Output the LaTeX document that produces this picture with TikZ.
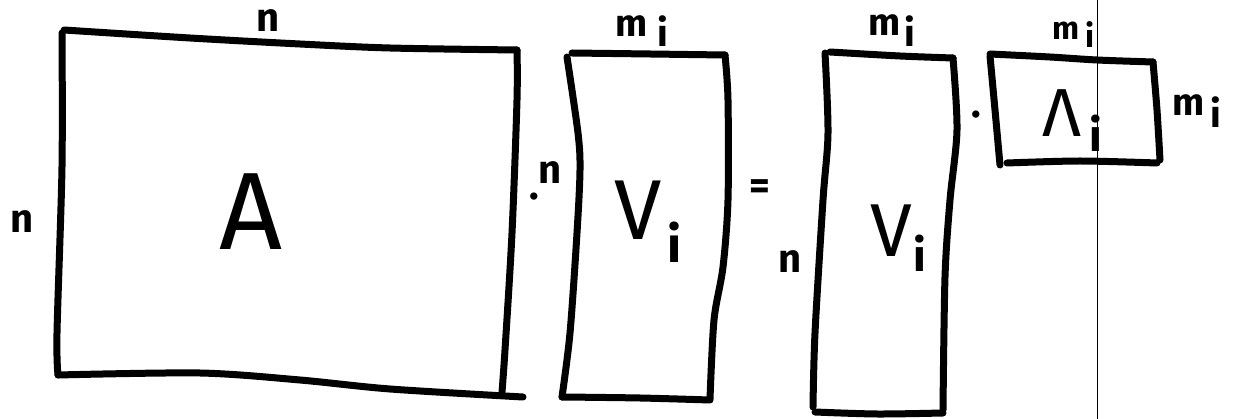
\documentclass[tikz,border=0pt]{standalone}
\usepackage{fontspec}
\setmainfont{Fira Sans}
\begin{document}
\begin{tikzpicture}[x=1pt,y=-1pt,
  pen/.style={line width=7pt,line cap=round,line join=round,black},
  small/.style={font=\fontsize{40}{42}\selectfont\bfseries,inner sep=0pt},
  msub/.style={font=\fontsize{38}{40}\selectfont\bfseries,inner sep=0pt,anchor=base west},
  big/.style={inner sep=0pt,anchor=base west}]
\useasboundingbox (0,0) rectangle (1235,419);
% thin vertical line
\draw[line width=1pt] (1097,0) -- (1097,419);
% Box A
\draw[pen] plot[smooth] coordinates {(64,30) (190,38) (300,44) (390,48) (517,50)};
\draw[pen] plot[smooth] coordinates {(517,50) (517,100) (512,233) (505,350) (502,392)};
\draw[pen] plot[smooth] coordinates {(58,375) (200,373) (300,380) (390,389) (523,397)};
\draw[pen] plot[smooth] coordinates {(62,33) (62,167) (57,333) (58,375)};
% Vi box 1
\draw[pen] plot[smooth] coordinates {(572,53) (650,54) (725,55)};
\draw[pen] plot[smooth] coordinates {(567,57) (578,133) (580,170) (577,233) (570,333) (562,397)};
\draw[pen] plot[smooth] coordinates {(725,55) (728,100) (728,200) (723,267) (714,320) (710,399)};
\draw[pen] plot[smooth] coordinates {(562,397) (640,398) (710,400)};
% Vi box 2
\draw[pen] plot[smooth] coordinates {(830,52) (900,56) (953,58)};
\draw[pen] plot[smooth] coordinates {(825,53) (828,133) (823,200) (815,333) (813,407)};
\draw[pen] plot[smooth] coordinates {(953,58) (957,130) (950,200) (945,277) (943,410)};
\draw[pen] plot[smooth] coordinates {(815,412) (877,414) (943,413)};
% Lambda box
\draw[pen] plot[smooth] coordinates {(990,54) (1050,57) (1097,60) (1153,62)};
\draw[pen] plot[smooth] coordinates {(990,56) (995,110) (1000,165)};
\draw[pen] plot[smooth] coordinates {(1007,163) (1080,161) (1157,163)};
\draw[pen] plot[smooth] coordinates {(1153,62) (1157,110) (1160,160)};
% labels
\node[small,anchor=base] (nA) at (268,32) {n};
\node[small,anchor=base] (nL) at (22,233) {n};
\node[big,font=\fontsize{110}{112}\selectfont] (A) at (219,250) {A};
\node[small,anchor=base west] (dn) at (529,200) {.\raisebox{16pt}{n}};
\node[msub] (m1) at (615,37) {m\hspace{10pt}\raisebox{-10pt}{i}};
\node[big,font=\fontsize{85}{88}\selectfont] (V1) at (614,240) {V\hspace{6pt}\raisebox{-23pt}{\fontsize{50}{50}\selectfont\bfseries i}};
\node[small] (eq) at (760,190) {=};
\node[small,anchor=base] (n2) at (790,273) {n};
\node[msub] (m2) at (868,36) {m\hspace{4pt}\raisebox{-11pt}{i}};
\node[big,font=\fontsize{75}{78}\selectfont] (V2) at (870,257) {V\hspace{2pt}\raisebox{-15pt}{\fontsize{45}{45}\selectfont\bfseries i}};
\node[small,anchor=base] (dot) at (976,118) {.};
\node[msub,font=\fontsize{32}{34}\selectfont\bfseries] (m3) at (1052,40) {m\hspace{6pt}\raisebox{-8pt}{i}};
\node[big,font=\fontsize{68}{70}\selectfont] (L) at (1042,137) {Λ\hspace{8pt}\raisebox{-15pt}{\fontsize{45}{45}\selectfont\bfseries i}};
\node[msub] (m4) at (1172,116) {m\hspace{6pt}\raisebox{-12pt}{i}};
\end{tikzpicture}
\end{document}
